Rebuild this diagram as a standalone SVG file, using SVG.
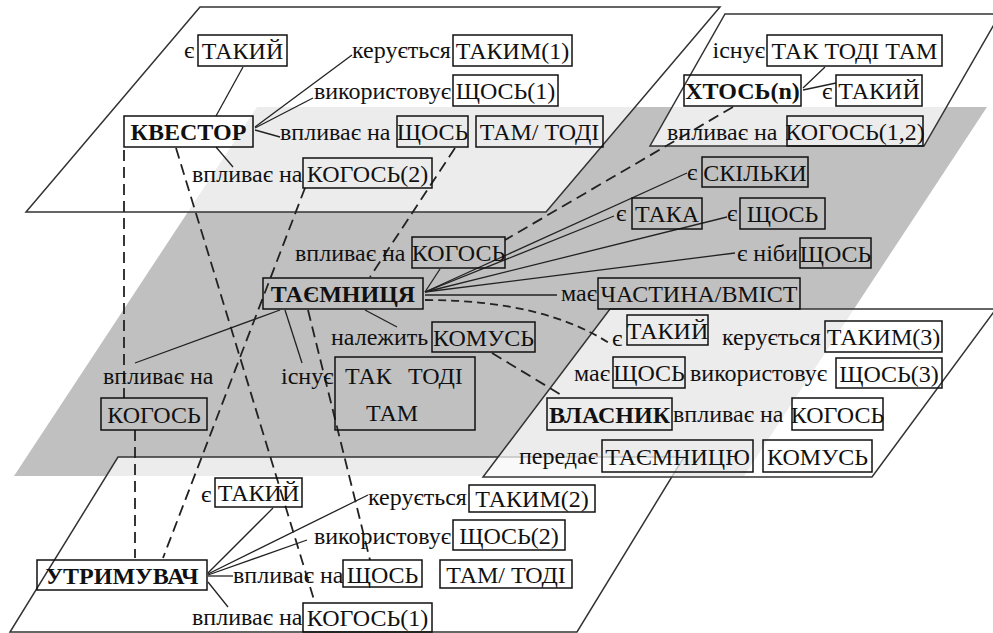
<svg xmlns="http://www.w3.org/2000/svg" width="993" height="633" viewBox="0 0 993 633">
<style>
.bg{fill:#fff}
.gray{fill:#c0c0c0;stroke:none}
.plane{fill:#fff;fill-opacity:0.7;stroke:#333;stroke-width:1.5}
.box{fill:none;stroke:#111;stroke-width:1.5}
text{fill:#111}
.b{font-weight:bold}
.m{text-anchor:middle}
.e{text-anchor:end}
.ln{stroke:#222;stroke-width:1.3;fill:none}
.ds{stroke:#222;stroke-width:1.8;fill:none;stroke-dasharray:11 6}
.dc{stroke:#222;stroke-width:1.8;fill:none;stroke-dasharray:8 5}
</style>
<rect class="bg" x="0" y="0" width="993" height="633"/>
<g id="planes">
<polygon class="gray" points="257,107 987,107 744,476 14,476"/>
<polygon class="plane" points="118,457 684,457 577,632 10,632"/>
<polygon class="plane" points="610,309 996,309 872,477 483,477"/>
<polygon class="plane" points="200,7 720,7 546,212 26,212"/>
<polygon class="plane" points="725,14 1000,14 924,146 650,146"/>
</g>
<g id="connectors">
<line class="ln" x1="243" y1="67" x2="216" y2="116"/>
<line class="ln" x1="255" y1="127" x2="352" y2="55"/>
<line class="ln" x1="255" y1="128" x2="313" y2="98"/>
<line class="ln" x1="255" y1="130" x2="280" y2="137"/>
<line class="ln" x1="216" y1="147" x2="233" y2="167"/>
<line class="ln" x1="803" y1="88" x2="825" y2="67"/>
<line class="ln" x1="803" y1="90" x2="836" y2="83"/>
<line class="ln" x1="440" y1="269" x2="425" y2="292"/>
<line class="ln" x1="425" y1="292" x2="687" y2="173"/>
<line class="ln" x1="425" y1="292" x2="614" y2="216"/>
<line class="ln" x1="425" y1="292" x2="727" y2="217"/>
<line class="ln" x1="425" y1="292" x2="735" y2="253"/>
<line class="ln" x1="425" y1="295" x2="557" y2="295"/>
<line class="ln" x1="280" y1="310" x2="135" y2="363"/>
<line class="ln" x1="285" y1="310" x2="302" y2="363"/>
<line class="ln" x1="365" y1="310" x2="397" y2="327"/>
<line class="ln" x1="273" y1="508" x2="208" y2="573"/>
<line class="ln" x1="208" y1="574" x2="368" y2="495"/>
<line class="ln" x1="208" y1="575" x2="307" y2="540"/>
<line class="ln" x1="208" y1="576" x2="233" y2="576"/>
<line class="ln" x1="208" y1="582" x2="228" y2="607"/>
<line class="ds" x1="124" y1="150" x2="124" y2="398"/>
<line class="ds" x1="135" y1="430" x2="135" y2="558"/>
<line class="ds" x1="176" y1="148" x2="315" y2="603"/>
<line class="ds" x1="305" y1="188" x2="163" y2="558"/>
<line class="ds" x1="455" y1="148" x2="370" y2="277"/>
<line class="ds" x1="733" y1="107" x2="505" y2="240"/>
<line class="ds" x1="308" y1="310" x2="370" y2="560"/>
<line class="ds" x1="492" y1="353" x2="563" y2="396"/>
<path class="dc" d="M425,300 Q545,300 612,345"/>
</g>
<g font-family="Liberation Serif, Tinos, Times New Roman, serif" font-size="24">
<g id="kvestor">
<text x="184" y="58">є</text>
<rect class="box" x="198" y="35" width="89" height="31"/><text class="m" x="242.5" y="59">ТАКИЙ</text>
<rect class="box" x="124" y="116" width="129" height="31"/><text class="b m" x="188.5" y="140">КВЕСТОР</text>
<text x="352" y="58">керується</text>
<rect class="box" x="453" y="35" width="119" height="31"/><text class="m" x="512.5" y="59">ТАКИМ(1)</text>
<text class="e" x="451" y="99">використовує</text>
<rect class="box" x="453" y="75" width="105" height="31"/><text class="m" x="505.5" y="99">ЩОСЬ(1)</text>
<text x="280" y="140">впливає на</text>
<rect class="box" x="397" y="116" width="71" height="31"/><text class="m" x="432.5" y="140">ЩОСЬ</text>
<rect class="box" x="476" y="116" width="127" height="31"/><text class="m" x="539.5" y="140">ТАМ/ ТОДІ</text>
<text x="192" y="182">впливає на</text>
<rect class="box" x="303" y="158" width="129" height="30"/><text class="m" x="367.5" y="182">КОГОСЬ(2)</text>
</g>
<g id="khtos">
<text class="e" x="765" y="58">існує</text>
<rect class="box" x="767" y="35" width="175" height="31"/><text class="m" x="854.5" y="59">ТАК ТОДІ ТАМ</text>
<rect class="box" x="684" y="75" width="117" height="31"/><text class="b m" x="742.5" y="99">ХТОСЬ(n)</text>
<text x="822" y="99">є</text>
<rect class="box" x="836" y="75" width="86" height="31"/><text class="m" x="879" y="99">ТАКИЙ</text>
<text x="667" y="140">впливає на</text>
<rect class="box" x="787" y="116" width="136" height="30"/><text class="m" x="855" y="140">КОГОСЬ(1,2)</text>
</g>
<g id="taiemnytsia">
<text x="687" y="180">є</text>
<rect class="box" x="702" y="157" width="106" height="30"/><text class="m" x="755" y="181">СКІЛЬКИ</text>
<text x="616" y="221">є</text>
<rect class="box" x="632" y="198" width="70" height="31"/><text class="m" x="667" y="222">ТАКА</text>
<text x="727" y="221">є</text>
<rect class="box" x="740" y="198" width="85" height="31"/><text class="m" x="782.5" y="222">ЩОСЬ</text>
<text x="737" y="261">є ніби</text>
<rect class="box" x="800" y="238" width="71" height="30"/><text class="m" x="835.5" y="262">ЩОСЬ</text>
<text x="295" y="261">впливає на</text>
<rect class="box" x="412" y="237" width="93" height="31"/><text class="m" x="458.5" y="261">КОГОСЬ</text>
<rect class="box" x="263" y="278" width="160" height="31"/><text class="b m" x="343" y="302">ТАЄМНИЦЯ</text>
<text x="561" y="301">має</text>
<rect class="box" x="598" y="278" width="202" height="31"/><text class="m" x="699" y="302">ЧАСТИНА/ВМІСТ</text>
<text x="331" y="345">належить</text>
<rect class="box" x="432" y="322" width="103" height="30"/><text class="m" x="483.5" y="346">КОМУСЬ</text>
<text x="103" y="384">впливає на</text>
<rect class="box" x="101" y="398" width="106" height="32"/><text class="m" x="154" y="423">КОГОСЬ</text>
<text x="281" y="384">існує</text>
<rect class="box" x="335" y="357" width="140" height="73"/>
<text x="345" y="384">ТАК</text><text x="408" y="384">ТОДІ</text>
<text class="m" x="392" y="421">ТАМ</text>
</g>
<g id="vlasnyk">
<text x="612" y="346">є</text>
<rect class="box" x="627" y="315" width="81" height="30"/><text class="m" x="667.5" y="339">ТАКИЙ</text>
<text x="722" y="345">керується</text>
<rect class="box" x="825" y="321" width="117" height="31"/><text class="m" x="883.5" y="345">ТАКИМ(3)</text>
<text x="574" y="381">має</text>
<rect class="box" x="613" y="357" width="72" height="31"/><text class="m" x="649" y="381">ЩОСЬ</text>
<text x="690" y="381">використовує</text>
<rect class="box" x="836" y="358" width="106" height="30"/><text class="m" x="889" y="382">ЩОСЬ(3)</text>
<rect class="box" x="547" y="398" width="125" height="32"/><text class="b m" x="609.5" y="423">ВЛАСНИК</text>
<text x="673" y="422">впливає на</text>
<rect class="box" x="792" y="398" width="91" height="32"/><text class="m" x="837.5" y="423">КОГОСЬ</text>
<text x="519" y="464">передає</text>
<rect class="box" x="602" y="440" width="151" height="32"/><text class="m" x="677.5" y="465">ТАЄМНИЦЮ</text>
<rect class="box" x="763" y="440" width="109" height="32"/><text class="m" x="817.5" y="465">КОМУСЬ</text>
</g>
<g id="utrymuvach">
<text x="201" y="502">є</text>
<rect class="box" x="215" y="478" width="87" height="29"/><text class="m" x="258.5" y="501">ТАКИЙ</text>
<text x="368" y="505">керується</text>
<rect class="box" x="469" y="485" width="126" height="27"/><text class="m" x="532" y="507">ТАКИМ(2)</text>
<text class="e" x="451" y="544">використовує</text>
<rect class="box" x="453" y="520" width="112" height="30"/><text class="m" x="509" y="544">ЩОСЬ(2)</text>
<rect class="box" x="37" y="560" width="170" height="30"/><text class="b m" x="122" y="584">УТРИМУВАЧ</text>
<text x="233" y="583">впливає на</text>
<rect class="box" x="343" y="560" width="79" height="27"/><text class="m" x="382.5" y="583">ЩОСЬ</text>
<rect class="box" x="440" y="560" width="132" height="28"/><text class="m" x="506" y="583">ТАМ/ ТОДІ</text>
<text x="192" y="625">впливає на</text>
<rect class="box" x="303" y="603" width="129" height="29"/><text class="m" x="367.5" y="626">КОГОСЬ(1)</text>
</g>
</g>
</svg>
